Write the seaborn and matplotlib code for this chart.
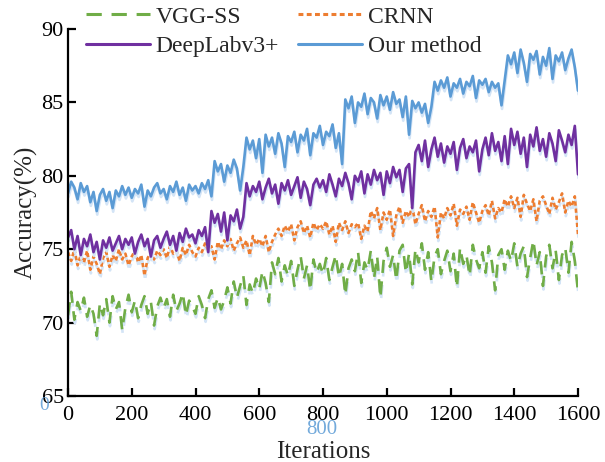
import numpy as np
import pandas as pd
import matplotlib
matplotlib.use("Agg")
import matplotlib.pyplot as plt
import matplotlib.patheffects as pe
from matplotlib.lines import Line2D
import seaborn as sns

# ---------------------------------------------------------
# data (one value every 10 iterations)
# ---------------------------------------------------------
iterations = list(range(0, 1601, 10))

vgg_ss = [
    70.5, 72.1, 70.2, 71.4, 70.8, 71.7, 70.4, 71.2, 70.6, 69.1,
    71.3, 70.5, 71.6, 70.0, 71.8, 70.9, 71.4, 69.5, 71.0, 71.9,
    70.7, 71.5, 70.3, 71.2, 71.8, 70.6, 71.4, 69.8, 71.1, 71.7,
    71.0, 71.6, 70.4, 71.9, 70.8, 71.3, 72.0, 70.5, 71.5, 71.1,
    70.6, 71.8, 71.2, 70.3, 71.6, 72.2, 71.0, 71.7, 70.9, 71.5,
    72.4, 71.3, 72.8, 71.7, 72.5, 73.2, 71.2, 72.6, 72.0, 73.0,
    72.3, 73.5, 72.7, 71.4, 74.1, 73.3, 74.4, 72.8, 73.9, 73.2,
    74.2, 72.5, 73.6, 74.5, 73.0, 73.9, 72.2, 74.3, 73.4, 74.0,
    73.3, 74.4, 72.9, 73.8, 74.6, 73.1, 74.0, 71.9, 73.7, 74.3,
    73.5, 74.8, 72.7, 74.1, 73.6, 74.9, 73.0, 74.5, 71.7, 74.2,
    75.1, 73.8, 74.6, 72.9, 74.9, 75.3, 73.4, 74.7, 72.6, 75.0,
    74.1, 75.4, 73.6, 74.8, 72.8, 74.5, 75.0, 73.3, 74.2, 74.9,
    73.5, 74.7, 72.4, 75.1, 74.0, 74.6, 73.2, 75.3, 74.3, 73.7,
    74.8, 73.4, 75.2, 74.1, 72.2, 74.6, 75.0, 73.6, 74.9, 74.2,
    75.4, 73.8, 74.7, 75.2, 73.1, 74.4, 75.6, 73.9, 74.8, 72.5,
    74.5, 75.3, 73.7, 74.9, 72.9, 74.6, 75.1, 73.4, 75.5, 74.2,
    72.1,
]

crnn = [
    74.8, 74.2, 75.0, 73.9, 74.6, 74.1, 74.9, 73.6, 74.5, 74.0,
    73.3, 74.4, 74.8, 73.8, 74.6, 74.2, 75.0, 74.3, 74.7, 73.9,
    74.5, 74.9, 74.1, 74.6, 73.2, 74.4, 74.8, 74.3, 74.9, 74.6,
    75.0, 74.4, 75.2, 74.7, 74.9, 74.2, 75.1, 74.6, 75.3, 74.8,
    74.5, 75.1, 74.8, 75.4, 74.9, 75.2, 74.3, 75.5, 75.0, 75.6,
    75.2, 75.7, 74.9, 75.4, 75.8, 75.1, 75.6, 74.6, 75.9, 75.3,
    75.7, 75.2, 75.9, 74.8, 75.5, 76.0, 76.4, 75.9, 76.6, 76.2,
    76.7, 75.6, 76.5, 76.9, 76.1, 76.6, 75.8, 76.8, 76.3, 76.7,
    76.4, 76.9, 76.0, 76.6, 75.5, 76.8, 76.3, 76.9, 76.1, 76.7,
    76.5, 76.8, 75.7, 76.6, 76.2, 77.6, 77.1, 77.8, 76.3, 77.5,
    77.0, 77.7, 75.9, 77.3, 77.9, 76.8, 77.6, 77.2, 77.9, 76.7,
    77.4, 78.0, 76.9, 77.6, 77.2, 77.9, 75.8, 77.5, 77.1, 77.8,
    77.3, 78.1, 76.6, 77.7, 77.4, 77.9, 77.0, 78.2, 77.5, 76.8,
    77.6, 78.0, 77.3, 78.3, 77.1, 77.8, 77.5, 78.4, 77.9, 78.6,
    77.8, 78.5, 77.2, 78.7, 78.1, 77.6, 78.4, 76.9, 78.3, 78.6,
    78.0, 77.4, 78.5, 77.7, 78.2, 78.8, 77.5, 78.3, 77.9, 78.6,
    76.0,
]

deeplab = [
    75.8, 76.3, 75.0, 75.9, 74.6, 75.7, 75.2, 76.0, 74.8, 75.5,
    74.3, 75.6, 75.1, 75.8, 74.9, 75.4, 75.9, 75.0, 75.7, 75.3,
    75.8, 74.7, 75.5, 76.0, 75.2, 75.7, 74.5, 75.6, 75.9, 75.1,
    75.7, 76.2, 75.3, 75.9, 74.9, 76.1, 75.5, 76.4, 75.8, 76.0,
    75.4, 76.3, 75.9, 76.5, 74.8, 77.6, 76.8, 77.4, 76.2, 77.5,
    75.6, 77.3, 76.9, 77.7, 76.4, 77.2, 79.5, 78.6, 79.3, 78.9,
    79.6, 78.4, 79.2, 79.8, 78.8, 79.4, 78.1, 79.5, 79.0, 79.7,
    78.7, 79.3, 79.9, 78.5, 79.6, 79.1, 78.0, 79.4, 79.8, 79.2,
    79.7, 78.9, 80.1, 79.4, 78.6, 79.8, 79.3, 80.2, 79.5, 78.4,
    80.0, 79.6, 80.3, 78.8, 80.1, 79.4, 80.4, 79.7, 80.2, 78.7,
    80.3, 79.5, 80.6, 79.9, 80.4, 78.9, 80.5, 80.8, 77.8, 81.6,
    82.1, 81.0, 82.4, 80.6, 81.8, 82.6, 81.3, 82.2, 80.9, 82.0,
    81.5, 82.3, 80.4, 81.9, 82.5, 81.2, 82.0, 81.6, 82.4, 80.3,
    81.8, 82.6, 81.4, 82.9, 81.7, 82.3, 81.0, 82.7, 80.8, 83.2,
    82.1, 83.0, 81.5, 82.6, 80.6, 82.8, 82.0, 83.3, 81.7, 82.5,
    81.3, 82.9, 82.2, 81.0, 83.1, 82.4, 81.6, 82.8, 82.1, 83.4,
    80.1,
]

our_method = [
    78.8, 79.6, 79.2, 78.4, 79.5, 78.9, 79.3, 78.2, 78.9, 77.6,
    78.7, 79.1, 78.3, 78.9, 77.8, 79.0, 78.6, 79.3, 78.7, 79.2,
    78.5, 79.1, 78.8, 79.4, 77.9, 79.0, 78.6, 79.2, 79.5, 78.8,
    79.1, 78.4, 79.3, 78.9, 79.6, 78.7, 79.2, 78.3, 79.4, 79.0,
    79.3, 78.8, 79.5, 79.1, 79.7, 78.6, 81.0, 80.3, 80.8, 79.6,
    80.7, 80.2, 81.1, 80.5, 79.0, 80.6, 82.6, 81.8, 82.4, 81.2,
    82.5, 80.2, 82.8, 82.0, 82.6, 81.5, 82.9, 82.2, 80.6, 82.7,
    82.3, 83.0, 81.6, 82.8, 82.4, 83.2, 81.4, 82.9, 82.6, 83.4,
    82.1, 83.0, 82.7, 83.5, 81.9, 82.9, 80.8, 85.2, 84.6, 85.4,
    83.6, 85.0, 84.7, 85.6, 84.2, 85.3, 85.0, 83.9, 85.5, 84.8,
    85.4, 84.5, 85.7, 84.9, 85.2, 84.0, 85.4, 82.8, 85.1, 84.6,
    85.0, 84.3, 84.9, 83.6, 84.7, 86.4, 85.8, 86.5, 86.0, 86.7,
    85.4, 86.3, 86.0, 86.6, 85.6, 86.4, 86.1, 86.8, 85.3, 86.5,
    86.2, 86.6, 85.7, 86.4, 86.0, 86.3, 84.8, 86.5, 88.2, 87.6,
    88.4, 87.0, 88.6, 87.7, 86.4, 88.3, 87.9, 88.5, 86.9, 88.1,
    87.5, 88.7, 86.6, 88.2, 87.8, 88.4, 87.2, 88.0, 88.6, 87.4,
    85.8,
]

labels = ['VGG-SS', 'CRNN', 'DeepLabv3+', 'Our method']
colors = ['#70ad47', '#ed7d31', '#7030a0', '#5b9bd5']
x_ticks = [0, 200, 400, 600, 800, 1000, 1200, 1400, 1600]
y_ticks = [65, 70, 75, 80, 85, 90]

# ---------------------------------------------------------
# style
# ---------------------------------------------------------
sns.set_theme(style='ticks')
plt.rcParams['font.family'] = ['Liberation Serif', 'DejaVu Serif']

fig = plt.figure(figsize=(6.05, 4.62), dpi=100)
ax = fig.add_axes([68 / 605, 1 - 396 / 462, 510 / 605, 367 / 462])

series = [vgg_ss, crnn, deeplab, our_method]
dash_styles = [(0, (5, 3.2)), (0, (1.6, 1.1)), '-', '-']
shadow = [pe.SimpleLineShadow(offset=(0.4, -2.6), shadow_color='#d3e4f6', alpha=1.0),
          pe.Normal()]

handles = []
for vals, lab, col, ls in zip(series, labels, colors, dash_styles):
    df = pd.DataFrame({'it': iterations, 'acc': vals})
    sns.lineplot(data=df, x='it', y='acc', ax=ax, color=col, linewidth=1.9,
                 legend=False)
    line = ax.lines[-1]
    line.set_linestyle(ls)
    line.set_path_effects(shadow)
    handles.append(Line2D([], [], color=col, linewidth=2.2, linestyle=ls, label=lab))

# axes
ax.set_xlim(0, 1600)
ax.set_ylim(65, 90)
ax.set_xticks(x_ticks)
ax.set_yticks(y_ticks)
ax.tick_params(direction='in', length=6, width=1.6, labelsize=16, colors='black',
               pad=7)
ax.tick_params(axis='y', pad=3)
for s in ['left', 'bottom']:
    ax.spines[s].set_linewidth(1.6)
    ax.spines[s].set_color('black')
sns.despine(ax=ax)
ax.set_xlabel('Iterations', fontsize=18, labelpad=12)
ax.set_ylabel('Accuracy(%)', fontsize=18, labelpad=3)

# legend, two columns at the top
order = [0, 2, 1, 3]
fig.legend([handles[i] for i in order], [labels[i] for i in order],
           ncol=2, loc='upper left', bbox_to_anchor=(86 / 605, 1 - 6 / 462),
           frameon=False, fontsize=17, handlelength=2.7, handletextpad=0.25,
           columnspacing=0.8, labelspacing=0.35, borderpad=0, borderaxespad=0)

# faint blue ghost labels seen in the reference
fig.text(44 / 605, 1 - 405 / 462, '0', color='#5b9bd5', fontsize=14,
         ha='center', va='center', alpha=0.85)
fig.text(322 / 605, 1 - 430 / 462, '800', color='#5b9bd5', fontsize=15,
         ha='center', va='center', alpha=0.85)

fig.savefig('out.png', dpi=100)
